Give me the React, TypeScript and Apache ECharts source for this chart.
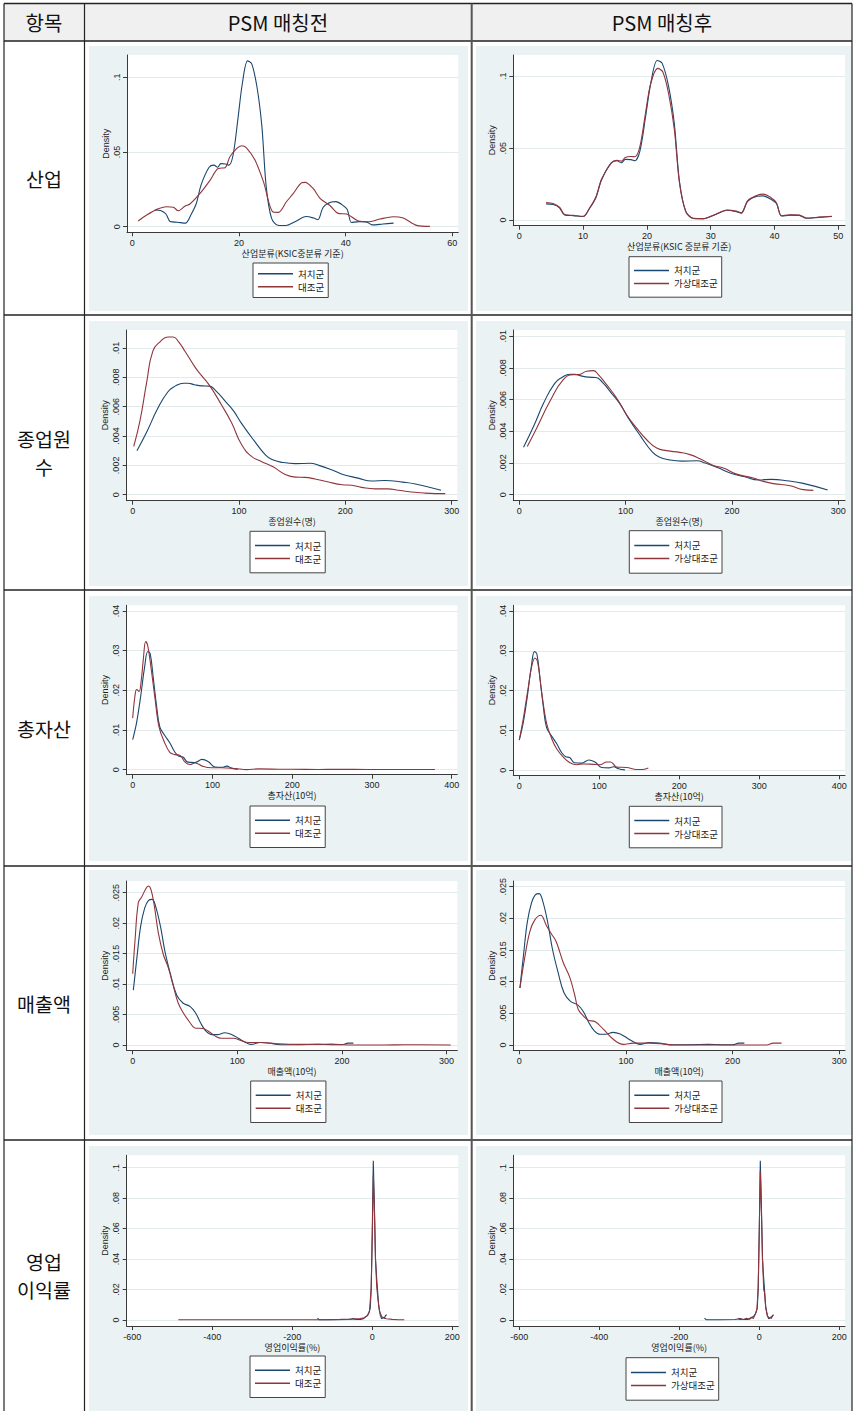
import React, { useEffect, useRef } from 'react';
import * as echarts from 'echarts';

type Pt = [number, number];

// ---------- DATA ----------
const industryXTicksBefore = [0, 20, 40, 60];
const industryXTicksAfter = [0, 10, 20, 30, 40, 50];
const industryYTicks = [0, 0.05, 0.1];
const employeesXTicks = [0, 100, 200, 300];
const employeesYTicks = [0, 0.002, 0.004, 0.006, 0.008, 0.01];
const assetsXTicks = [0, 100, 200, 300, 400];
const assetsYTicks = [0, 0.01, 0.02, 0.03, 0.04];
const salesXTicks = [0, 100, 200, 300];
const salesYTicks = [0, 0.005, 0.01, 0.015, 0.02, 0.025];
const profitXTicks = [-600, -400, -200, 0, 200];
const profitYTicks = [0, 0.02, 0.04, 0.06, 0.08, 0.1];

const industryTreat: Pt[] = [
  [4.2, 0.0112], [5.3, 0.0108], [6.3, 0.0085], [7.1, 0.0035], [8.5, 0.003], [10, 0.0024], [11, 0.008],
  [12, 0.0155], [12.9, 0.028], [14.4, 0.0398], [15.3, 0.0412], [16, 0.0398], [16.6, 0.0422], [17.5, 0.042],
  [18.1, 0.0412], [18.9, 0.048], [19.8, 0.072], [20.6, 0.095], [21.6, 0.111], [22.4, 0.109], [23.4, 0.093],
  [24.3, 0.067], [25.1, 0.027], [26.1, 0.0057], [27.3, 0.001], [28.8, 0.0008], [30.5, 0.0033], [32.6, 0.0068],
  [34, 0.0058], [34.8, 0.0047], [35.8, 0.013], [37.3, 0.0165], [38.2, 0.0168], [39.3, 0.0148], [40.3, 0.0115],
  [41.1, 0.0028], [42.5, 0.0034], [43.9, 0.0032], [45, 0.0012], [47, 0.0018], [49, 0.0024],
];
const industryCtrlBefore: Pt[] = [
  [1.1, 0.0038], [2.7, 0.0078], [4.6, 0.0116], [6.4, 0.0134], [7.7, 0.013], [8.6, 0.0107], [9.9, 0.0138],
  [10.8, 0.0152], [12.7, 0.0223], [14.6, 0.0312], [16.1, 0.039], [17.4, 0.0395], [18.3, 0.0468], [19.6, 0.0524],
  [20.5, 0.0542], [21.4, 0.0528], [23, 0.0446], [24.6, 0.03], [26.4, 0.0098], [27.4, 0.0096], [28.9, 0.0167],
  [30.2, 0.0223], [31.75, 0.0294], [32.4, 0.0297], [33.9, 0.0256], [35.2, 0.019], [37.1, 0.014], [38.6, 0.0089],
  [40.2, 0.0085], [42.4, 0.0038], [44.3, 0.0033], [46.4, 0.0051], [48.9, 0.0067], [50.8, 0.0058], [53.3, 0.0009],
  [55.8, 0.0002],
];
const industryCtrlAfter: Pt[] = [
  [4.2, 0.0122], [5.3, 0.0115], [6.3, 0.009], [7.1, 0.0038], [8.5, 0.0032], [10, 0.0025], [11, 0.0082],
  [12, 0.016], [12.9, 0.0285], [14.4, 0.0395], [15.3, 0.0415], [16, 0.041], [16.6, 0.0435], [17.5, 0.0442],
  [18.1, 0.044], [18.9, 0.051], [19.8, 0.075], [20.6, 0.095], [21.7, 0.1055], [22.5, 0.103], [23.4, 0.088],
  [24.3, 0.063], [25.1, 0.026], [26.1, 0.006], [27.3, 0.0012], [28.8, 0.001], [30.5, 0.0035], [32.6, 0.007],
  [34, 0.0062], [34.8, 0.005], [35.8, 0.0135], [37.3, 0.0172], [38.2, 0.018], [39.3, 0.016], [40.3, 0.012],
  [41.1, 0.003], [42.5, 0.0036], [43.9, 0.0034], [45, 0.0014], [47, 0.002], [49, 0.0026],
];

const employeesTreat: Pt[] = [
  [4, 0.003], [14, 0.0044], [23, 0.0058], [33, 0.007], [40, 0.0074], [48, 0.0076], [52, 0.0076], [58, 0.0075],
  [65, 0.00742], [72, 0.0074], [78, 0.0071], [88, 0.0063], [95, 0.0057], [102, 0.0049], [114, 0.0037],
  [125, 0.0027], [131, 0.0024], [141, 0.0022], [153, 0.00212], [167, 0.00214], [175, 0.002], [187, 0.0017],
  [197, 0.0014], [212, 0.00113], [225, 0.00093], [237, 0.00097], [254, 0.00086], [266, 0.00073], [290, 0.0003],
];
const employeesCtrlBefore: Pt[] = [
  [1, 0.0033], [7, 0.0051], [13, 0.0076], [19, 0.0098], [26, 0.01044], [33, 0.01075], [38, 0.01075],
  [43, 0.01044], [49, 0.0098], [58.6, 0.0087], [65, 0.0081], [72.7, 0.0074], [83.7, 0.0061], [93, 0.0049],
  [102.5, 0.0034], [112, 0.0026], [121, 0.00227], [132, 0.0019], [143, 0.0014], [153, 0.0012], [162, 0.00118],
  [171.5, 0.00107], [184, 0.00086], [197, 0.00068], [206, 0.00064], [215, 0.0005], [228, 0.0004], [240, 0.0004],
  [250, 0.0003], [262, 0.00018], [275, 0.00011], [294, 0.00007],
];
const employeesCtrlAfter: Pt[] = [
  [7.5, 0.00305], [16.3, 0.0042], [28.8, 0.0059], [41.4, 0.00726], [50.8, 0.00758], [55.5, 0.00758],
  [63.3, 0.00779], [69.6, 0.00783], [74.3, 0.00758], [82.1, 0.00695], [91.5, 0.0061], [100.9, 0.00505],
  [110.4, 0.0042], [119.8, 0.00347], [129.2, 0.00295], [138.6, 0.00278], [151.1, 0.00267], [160.5, 0.00253],
  [169.9, 0.00227], [182.5, 0.00185], [191.9, 0.00168], [204.4, 0.0013], [220.1, 0.00105], [229.5, 0.00084],
  [238.9, 0.0007], [254.6, 0.00057], [267.1, 0.00032], [276.5, 0.00027],
];

const assetsTreat: Pt[] = [
  [0, 0.0076], [5, 0.012], [10, 0.0185], [15, 0.026], [19, 0.0298], [22, 0.0292], [26, 0.0228], [30, 0.016],
  [34, 0.0108], [40, 0.0087], [47, 0.0066], [53, 0.0044], [58, 0.0034], [63, 0.0032], [69, 0.0019], [78, 0.0018],
  [87, 0.0026], [95, 0.002], [103, 0.0007], [112, 0.0006], [118, 0.0009], [124, 0.0004], [132, 0.0001],
];
const assetsCtrlBefore: Pt[] = [
  [0, 0.013], [2.9, 0.0187], [5, 0.0202], [7.9, 0.0197], [10.5, 0.0221], [13.4, 0.028], [16.3, 0.0323],
  [18.8, 0.0313], [22.6, 0.0263], [28, 0.0179], [33, 0.0108], [39.7, 0.007], [46.8, 0.0043], [53.1, 0.0038],
  [59.4, 0.0036], [65.6, 0.0019], [71.9, 0.0013], [78.2, 0.0017], [88.7, 0.0008], [99.1, 0.0005], [111.6, 0.0005],
  [128.3, 0.0003], [143, 0.00002], [157.6, 0.0002], [191, 0.0001], [199.4, 0.0001], [232.8, 0.00005],
  [257.9, 0.0001], [295.5, 0.00005], [379, 0.00005],
];
const assetsCtrlAfter: Pt[] = [
  [0, 0.0077], [5, 0.013], [11.25, 0.0209], [15.4, 0.026], [19.6, 0.0282], [22.9, 0.0272], [27.9, 0.0197],
  [34.2, 0.0117], [40.4, 0.008], [46.7, 0.0054], [55, 0.0033], [63.3, 0.0019], [71.7, 0.0014], [80, 0.0016],
  [92.5, 0.0015], [100.8, 0.0014], [109.2, 0.0021], [114.2, 0.0021], [121.7, 0.0008], [134.2, 0.0007],
  [146.7, 0.0002], [152.9, 0.0002], [161.3, 0.0006],
];

const salesTreat: Pt[] = [
  [0.6, 0.009], [4, 0.0143], [7.5, 0.0194], [11.5, 0.0225], [15, 0.0237], [18.5, 0.0239], [21.5, 0.023],
  [26.5, 0.0195], [31, 0.0152], [36, 0.0117], [42, 0.0082], [48, 0.0069], [55, 0.0063], [60, 0.0053],
  [65, 0.0036], [70, 0.0023], [76, 0.0017], [81, 0.0017], [88, 0.002], [95, 0.0017], [101, 0.0011],
  [107, 0.0005], [113, 0.0001], [122, 0.0004], [131, 0.0003], [141, 0.00005], [160, 0.00005], [177, 0.0001],
  [190, 0.00005], [200, 0.00005], [206, 0.0003], [211, 0.0003],
];
const salesCtrlBefore: Pt[] = [
  [0, 0.0117], [2.2, 0.0171], [5.4, 0.0234], [8.6, 0.0243], [11.8, 0.0254], [14.9, 0.0261], [17.5, 0.0255],
  [20.7, 0.0228], [24.5, 0.0184], [29.2, 0.0149], [34, 0.0127], [38.8, 0.0097], [43.5, 0.0069], [48.3, 0.0053],
  [54.7, 0.0037], [59.4, 0.0028], [67.4, 0.0027], [72.1, 0.0023], [78.5, 0.0015], [84.8, 0.0011], [96, 0.0011],
  [103.9, 0.0007], [110.3, 0.0004], [123, 0.0004], [138.9, 0.0002], [158, 0.0001], [177, 0.0001],
  [189.7, 0.00015], [205.6, 0], [240.6, 0], [259.6, 0.00005], [304, 0],
];
const salesCtrlAfter: Pt[] = [
  [0.6, 0.009], [5.3, 0.014], [10, 0.018], [14.7, 0.0198], [20, 0.0205], [25.6, 0.0188], [30.3, 0.0175],
  [34.4, 0.0164], [38.1, 0.0146], [41.25, 0.013], [47.5, 0.0106], [52.2, 0.0077], [55.3, 0.0056], [60, 0.0046],
  [64.7, 0.0039], [70.9, 0.0037], [78.75, 0.0025], [88.1, 0.0009], [97.5, 0.0001], [106.9, 0.0003],
  [122.5, 0.0003], [133.4, 0.0002], [144.4, 0], [172.5, 0], [203.75, 0], [231.9, 0], [238.1, 0.0003],
  [245.9, 0.0003],
];

const profitTreat: Pt[] = [
  [-137, 0.0012], [-133, 0.0002], [-100, 0.0002], [-60, 0.0003], [-47, 0.001], [-42, 0.0003], [-30, 0.0004],
  [-22, 0.0009], [-16, 0.0022], [-12, 0.003], [-8, 0.005], [-5, 0.008], [-2.5, 0.022], [0, 0.06], [2.5, 0.1045],
  [5, 0.078], [8, 0.04], [10.8, 0.028], [13, 0.02], [16, 0.009], [20, 0.003], [23.5, 0.0008], [27, 0.0018],
  [30, 0.001], [33, 0.003], [36, 0.0035],
];
const profitCtrlBefore: Pt[] = [
  [-485, 0.0002], [-400, 0.0002], [-300, 0.0002], [-200, 0.0002], [-120, 0.0002], [-80, 0.0004], [-50, 0.0006],
  [-30, 0.001], [-20, 0.0015], [-12, 0.003], [-7, 0.006], [-3, 0.02], [0, 0.055], [2.5, 0.095], [5, 0.075],
  [8, 0.04], [11, 0.022], [14, 0.014], [18, 0.006], [24, 0.002], [35, 0.0008], [50, 0.0004], [65, 0.0002],
  [80, 0.0002],
];
const profitCtrlAfter: Pt[] = [
  [-53, 0.0012], [-50, 0.0003], [-40, 0.0004], [-32, 0.0012], [-26, 0.0005], [-20, 0.0018], [-15, 0.001],
  [-10, 0.004], [-6, 0.007], [-3, 0.02], [0, 0.06], [2.5, 0.098], [5, 0.075], [8, 0.04], [11, 0.02], [13, 0.018],
  [16, 0.008], [20, 0.003], [25, 0.001], [30, 0.002], [35, 0.003],
];

const headers = ['항목', 'PSM 매칭전', 'PSM 매칭후'];
const rowLabels: string[][] = [['산업'], ['종업원', '수'], ['총자산'], ['매출액'], ['영업', '이익률']];
const xNames = ['산업분류(KSIC중분류 기준)', '산업분류(KSIC 중분류 기준)', '종업원수(명)', '종업원수(명)',
  '총자산(10억)', '총자산(10억)', '매출액(10억)', '매출액(10억)', '영업이익률(%)', '영업이익률(%)'];
const TREAT = '처치군';
const CTRL = '대조군';
const CTRL_AFTER = '가상대조군';

// ---------- LAYOUT / STYLE ----------
const W = 853;
const H = 1411;
const BLUE = '#1a476f';
const RED = '#90353b';
const LATIN = '"Liberation Sans", Arial, "Noto Sans CJK KR", sans-serif';
const KFONT = '"Noto Sans CJK KR", "Liberation Sans", sans-serif';

type Panel = {
  plot: [number, number, number, number];
  xCal: [number, number, number, number];
  yCal: [number, number, number, number];
  xTicks: number[];
  yTicks: number[];
  legend: [number, number, number];
  treat: Pt[];
  ctrl: Pt[];
  after: boolean;
  smooth: number | boolean;
};

const panels: Panel[] = [
  { plot: [127, 55, 458.3, 232.3], xCal: [0, 132.3, 60, 452.3], yCal: [0, 226.7, 0.1, 77.3], xTicks: industryXTicksBefore, yTicks: industryYTicks, legend: [253, 263, 6], treat: industryTreat, ctrl: industryCtrlBefore, after: false, smooth: 0.3 },
  { plot: [513.3, 55, 845, 225.7], xCal: [0, 519.3, 50, 838.3], yCal: [0, 220, 0.1, 76.3], xTicks: industryXTicksAfter, yTicks: industryYTicks, legend: [629, 256.7, 9], treat: industryTreat, ctrl: industryCtrlAfter, after: true, smooth: 0.3 },
  { plot: [126.7, 330, 457.3, 500.7], xCal: [0, 132.7, 300, 451.7], yCal: [0, 494.7, 0.01, 348], xTicks: employeesXTicks, yTicks: employeesYTicks, legend: [250, 531.3, 9.5], treat: employeesTreat, ctrl: employeesCtrlBefore, after: false, smooth: 0.5 },
  { plot: [513.3, 330, 845, 500.7], xCal: [0, 519.3, 300, 838.3], yCal: [0, 494.7, 0.01, 336.3], xTicks: employeesXTicks, yTicks: employeesYTicks, legend: [629.3, 530.7, 10], treat: employeesTreat, ctrl: employeesCtrlAfter, after: true, smooth: 0.5 },
  { plot: [126.7, 605.3, 457.3, 774.7], xCal: [0, 132.7, 400, 451.7], yCal: [0, 769.7, 0.04, 611], xTicks: assetsXTicks, yTicks: assetsYTicks, legend: [250, 806, 9.5], treat: assetsTreat, ctrl: assetsCtrlBefore, after: false, smooth: 0.4 },
  { plot: [513.3, 605.3, 845, 775.3], xCal: [0, 519.3, 400, 839.3], yCal: [0, 770.3, 0.04, 611], xTicks: assetsXTicks, yTicks: assetsYTicks, legend: [629.3, 806.3, 9.5], treat: assetsTreat, ctrl: assetsCtrlAfter, after: true, smooth: 0.4 },
  { plot: [126.7, 881, 457.3, 1050.3], xCal: [0, 132.7, 300, 446.5], yCal: [0, 1045, 0.025, 892.7], xTicks: salesXTicks, yTicks: salesYTicks, legend: [250.7, 1081, 9.5], treat: salesTreat, ctrl: salesCtrlBefore, after: false, smooth: 0.4 },
  { plot: [513.3, 881, 845, 1050.3], xCal: [0, 519.3, 300, 839.3], yCal: [0, 1045, 0.025, 886.7], xTicks: salesXTicks, yTicks: salesYTicks, legend: [629.3, 1081, 9.5], treat: salesTreat, ctrl: salesCtrlAfter, after: true, smooth: 0.4 },
  { plot: [126.7, 1155.3, 458.3, 1326], xCal: [-600, 132.3, 200, 452.3], yCal: [0, 1320, 0.1, 1167.7], xTicks: profitXTicks, yTicks: profitYTicks, legend: [250, 1356, 9.5], treat: profitTreat, ctrl: profitCtrlBefore, after: false, smooth: false },
  { plot: [513.3, 1155.3, 845, 1326], xCal: [-600, 519.3, 200, 839.3], yCal: [0, 1320, 0.1, 1167.7], xTicks: profitXTicks, yTicks: profitYTicks, legend: [626, 1357.7, 10], treat: profitTreat, ctrl: profitCtrlAfter, after: true, smooth: false },
];

const rowLines = [3.5, 41, 315, 590, 866, 1140];
const rowBg: [number, number][] = [[46, 311], [321, 586], [596, 861], [870, 1135], [1146, 1411]];
const LABEL_LINE = 28.5;
const LABEL_SIZE = 19.5;

const valAt = (cal: [number, number, number, number], p: number) =>
  cal[0] + ((p - cal[1]) * (cal[2] - cal[0])) / (cal[3] - cal[1]);

const fmt = (v: number) => {
  const s = String(+Number(v).toPrecision(6));
  return s.replace(/^0\./, '.').replace(/^-0\./, '-.');
};

function buildOption(): any {
  const grid: any[] = [];
  const xAxis: any[] = [];
  const yAxis: any[] = [];
  const series: any[] = [];
  const legend: any[] = [];

  panels.forEach((p, i) => {
    const [x0, y0, x1, y1] = p.plot;
    grid.push({
      left: x0, top: y0, width: x1 - x0, height: y1 - y0,
      show: true, backgroundColor: '#ffffff', borderWidth: 0, containLabel: false, outerBoundsMode: 'none',
    });
    xAxis.push({
      gridIndex: i, type: 'value', min: valAt(p.xCal, x0), max: valAt(p.xCal, x1),
      axisLine: { show: true, onZero: false, lineStyle: { color: '#3a3a3a', width: 1 } },
      axisTick: { show: true, customValues: p.xTicks, length: 4, lineStyle: { color: '#3a3a3a', width: 1 } },
      axisLabel: { show: true, customValues: p.xTicks, formatter: fmt, fontSize: 9, color: '#222', margin: 6, fontFamily: LATIN },
      splitLine: { show: false },
      name: xNames[i], nameLocation: 'middle', nameGap: 16.5,
      nameTextStyle: { fontSize: 9, color: '#222', fontFamily: KFONT },
    });
    yAxis.push({
      gridIndex: i, type: 'value', min: valAt(p.yCal, y1), max: valAt(p.yCal, y0),
      axisLine: { show: true, onZero: false, lineStyle: { color: '#3a3a3a', width: 1 } },
      axisTick: { show: true, customValues: p.yTicks, length: 4, lineStyle: { color: '#3a3a3a', width: 1 } },
      axisLabel: { show: true, customValues: p.yTicks, formatter: fmt, rotate: 90, fontSize: 9, color: '#222', margin: 6, fontFamily: LATIN },
      splitLine: { show: true, lineStyle: { color: '#e2eaec', width: 1 } },
      name: 'Density', nameLocation: 'middle', nameRotate: 90, nameGap: 17,
      nameTextStyle: { fontSize: 9, color: '#222', fontFamily: LATIN },
    });
    const ctrlName = p.after ? CTRL_AFTER : CTRL;
    series.push({
      type: 'line', name: TREAT, xAxisIndex: i, yAxisIndex: i, data: p.treat,
      showSymbol: false, symbol: 'none', smooth: p.smooth, silent: true, z: 3,
      lineStyle: { color: BLUE, width: 1.1 }, itemStyle: { color: BLUE },
    });
    series.push({
      type: 'line', name: ctrlName, xAxisIndex: i, yAxisIndex: i, data: p.ctrl,
      showSymbol: false, symbol: 'none', smooth: p.smooth, silent: true, z: 4,
      lineStyle: { color: RED, width: 1.1 }, itemStyle: { color: RED },
    });
    const [lx, ly, pv] = p.legend;
    legend.push({
      left: lx, top: ly, orient: 'vertical', icon: 'rect', itemWidth: 35, itemHeight: 1.5, itemGap: 3.5,
      padding: [pv, 4, pv, 5], borderColor: '#444', borderWidth: 1, backgroundColor: '#ffffff',
      selectedMode: false, data: [TREAT, ctrlName],
      textStyle: { fontSize: 9.5, color: '#222', fontFamily: KFONT },
    });
  });

  const graphic: any[] = [];
  graphic.push({ type: 'rect', z: -20, silent: true, shape: { x: 4, y: 3.5, width: 848, height: 37.5 }, style: { fill: '#f0f0f0' } });
  rowBg.forEach(([a, b]) => {
    graphic.push({ type: 'rect', z: -20, silent: true, shape: { x: 89, y: a, width: 379, height: b - a }, style: { fill: '#eaf2f3' } });
    graphic.push({ type: 'rect', z: -20, silent: true, shape: { x: 476, y: a, width: 376, height: b - a }, style: { fill: '#eaf2f3' } });
  });
  rowLines.forEach((y, k) => {
    graphic.push({ type: 'line', z: 50, silent: true, shape: { x1: 4, y1: y, x2: 852, y2: y }, style: { stroke: '#222', lineWidth: k === 1 ? 1.6 : 1.3 } });
  });
  [4, 84.5, 852].forEach((x) => {
    graphic.push({ type: 'line', z: 50, silent: true, shape: { x1: x, y1: 3.5, x2: x, y2: H }, style: { stroke: '#222', lineWidth: 1.2 } });
  });
  graphic.push({ type: 'line', z: 50, silent: true, shape: { x1: 471.7, y1: 3.5, x2: 471.7, y2: H }, style: { stroke: '#555', lineWidth: 2 } });
  const headerX = [44, 278, 662];
  headers.forEach((t, k) => {
    graphic.push({ type: 'text', z: 60, silent: true, style: { text: t, x: headerX[k], y: 22.5, align: 'center', verticalAlign: 'middle', fontSize: 20, fontFamily: KFONT, fill: '#111' } });
  });
  rowLabels.forEach((lines, k) => {
    const cy = (rowLines[k + 1] + (k + 2 < rowLines.length ? rowLines[k + 2] : H)) / 2;
    const start = cy - ((lines.length - 1) * LABEL_LINE) / 2;
    lines.forEach((t, j) => {
      graphic.push({ type: 'text', z: 60, silent: true, style: { text: t, x: 44, y: start + j * LABEL_LINE, align: 'center', verticalAlign: 'middle', fontSize: LABEL_SIZE, fontFamily: KFONT, fill: '#111' } });
    });
  });

  return { animation: false, backgroundColor: '#ffffff', grid, xAxis, yAxis, series, legend, graphic };
}

export default function App() {
  const ref = useRef<HTMLDivElement>(null);
  useEffect(() => {
    document.body.style.margin = '0';
    const chart = echarts.init(ref.current as HTMLDivElement, null, { renderer: 'svg' });
    chart.setOption(buildOption());
    return () => chart.dispose();
  }, []);
  return <div ref={ref} style={{ position: 'absolute', left: 0, top: 0, width: W, height: H, background: '#fff' }} />;
}
